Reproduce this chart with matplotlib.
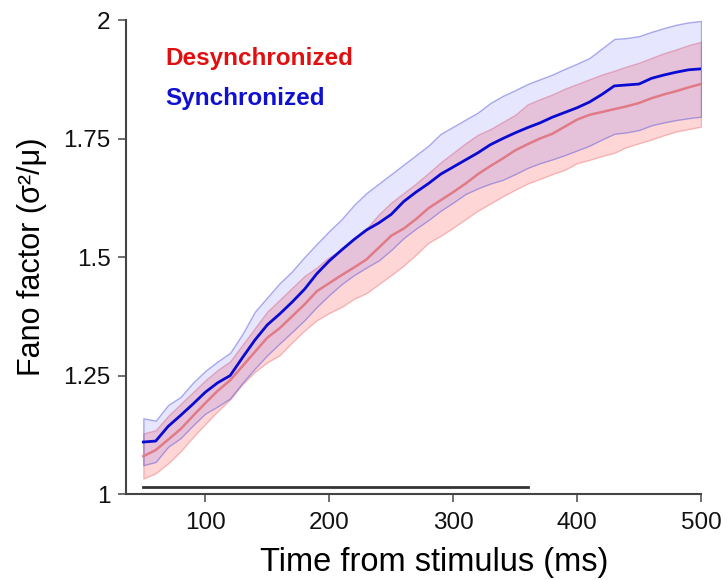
import matplotlib.pyplot as plt
import numpy as np

plt.rcParams['font.family'] = ['Liberation Sans', 'DejaVu Sans']

# time bins (ms)
time_ms = np.arange(50, 501, 10)

# synchronized state: mean and band
sync_mean = [1.110, 1.112, 1.143, 1.166, 1.190, 1.215, 1.235, 1.250, 1.288, 1.325,
             1.357, 1.380, 1.405, 1.432, 1.465, 1.492, 1.515, 1.537, 1.557, 1.572,
             1.590, 1.617, 1.637, 1.655, 1.675, 1.690, 1.705, 1.720, 1.737, 1.750,
             1.762, 1.773, 1.783, 1.795, 1.805, 1.815, 1.827, 1.843, 1.861, 1.863,
             1.865, 1.877, 1.884, 1.890, 1.895, 1.897]
sync_upper = [1.160, 1.155, 1.188, 1.205, 1.235, 1.260, 1.280, 1.298, 1.338, 1.385,
              1.415, 1.445, 1.470, 1.500, 1.528, 1.555, 1.580, 1.610, 1.635, 1.655,
              1.675, 1.695, 1.715, 1.735, 1.760, 1.775, 1.790, 1.805, 1.825, 1.840,
              1.852, 1.865, 1.875, 1.885, 1.897, 1.908, 1.920, 1.940, 1.960, 1.962,
              1.966, 1.975, 1.983, 1.990, 1.995, 1.998]
sync_lower = [1.061, 1.068, 1.100, 1.118, 1.145, 1.170, 1.185, 1.202, 1.235, 1.265,
              1.293, 1.318, 1.342, 1.367, 1.395, 1.420, 1.443, 1.462, 1.478, 1.493,
              1.515, 1.540, 1.560, 1.578, 1.598, 1.615, 1.633, 1.645, 1.655, 1.663,
              1.675, 1.688, 1.698, 1.706, 1.715, 1.725, 1.735, 1.748, 1.760, 1.763,
              1.768, 1.778, 1.784, 1.789, 1.793, 1.796]

# desynchronized state: mean and band
desync_mean = [1.080, 1.093, 1.115, 1.137, 1.165, 1.192, 1.218, 1.240, 1.270, 1.300,
               1.330, 1.350, 1.375, 1.400, 1.428, 1.445, 1.462, 1.478, 1.495, 1.520,
               1.545, 1.560, 1.580, 1.603, 1.620, 1.637, 1.655, 1.675, 1.692, 1.708,
               1.725, 1.738, 1.750, 1.760, 1.775, 1.790, 1.800, 1.806, 1.812, 1.818,
               1.825, 1.835, 1.843, 1.850, 1.858, 1.865]
desync_upper = [1.128, 1.135, 1.165, 1.190, 1.215, 1.240, 1.262, 1.280, 1.315, 1.350,
                1.385, 1.410, 1.435, 1.460, 1.478, 1.500, 1.515, 1.540, 1.560, 1.590,
                1.615, 1.635, 1.655, 1.677, 1.700, 1.720, 1.740, 1.758, 1.770, 1.785,
                1.800, 1.822, 1.833, 1.843, 1.855, 1.865, 1.875, 1.885, 1.893, 1.902,
                1.910, 1.920, 1.930, 1.938, 1.947, 1.954]
desync_lower = [1.033, 1.044, 1.065, 1.090, 1.120, 1.148, 1.175, 1.200, 1.232, 1.258,
                1.278, 1.293, 1.320, 1.345, 1.367, 1.382, 1.395, 1.412, 1.424, 1.443,
                1.462, 1.482, 1.505, 1.530, 1.545, 1.562, 1.580, 1.598, 1.613, 1.628,
                1.642, 1.655, 1.665, 1.675, 1.684, 1.698, 1.705, 1.713, 1.720, 1.732,
                1.740, 1.748, 1.757, 1.765, 1.770, 1.775]

# significance bar
sig_start, sig_end, sig_level = 50, 360, 1.015

fig = plt.figure(figsize=(7.27, 5.8), dpi=100)
ax = fig.add_axes([0.1733, 0.148, 0.791, 0.8175])

# desynchronized band + mean
ax.fill_between(time_ms, desync_lower, desync_upper, facecolor=(1, 0, 0, 0.16),
                edgecolor=(0.9, 0.3, 0.3, 0.35), linewidth=1)
ax.plot(time_ms, desync_mean, color='#e07a86', lw=1.8)

# synchronized band + mean
ax.fill_between(time_ms, sync_lower, sync_upper, facecolor=(0.2, 0.2, 1, 0.12),
                edgecolor=(0.3, 0.3, 0.85, 0.45), linewidth=1)
ax.plot(time_ms, sync_mean, color='#0a0ad0', lw=2)

ax.plot([sig_start, sig_end], [sig_level, sig_level], color='#333333', lw=2)

ax.text(0.068, 0.905, 'Desynchronized', transform=ax.transAxes, color='#e01010',
        fontsize=17.5, fontweight='bold', va='baseline')
ax.text(0.068, 0.821, 'Synchronized', transform=ax.transAxes, color='#1010d0',
        fontsize=17.5, fontweight='bold', va='baseline')

ax.set_xlim(36, 500)
ax.set_ylim(1, 2)
ax.set_xticks([100, 200, 300, 400, 500])
ax.set_yticks([1, 1.25, 1.5, 1.75, 2])
ax.set_yticklabels(['1', '1.25', '1.5', '1.75', '2'])

for s in ['top', 'right']:
    ax.spines[s].set_visible(False)
for s in ['left', 'bottom']:
    ax.spines[s].set_color('#444444')
    ax.spines[s].set_linewidth(1.5)
ax.tick_params(direction='out', length=6, width=1.2, color='#555555',
               labelsize=17.5, pad=5, labelcolor='#111111')
ax.tick_params(axis='x', pad=7)

ax.set_xlabel('Time from stimulus (ms)', fontsize=23.5, labelpad=9, x=0.536)
ax.set_ylabel('Fano factor (σ²/μ)', fontsize=22, labelpad=12)

fig.savefig('out.png', dpi=100, facecolor='white')
